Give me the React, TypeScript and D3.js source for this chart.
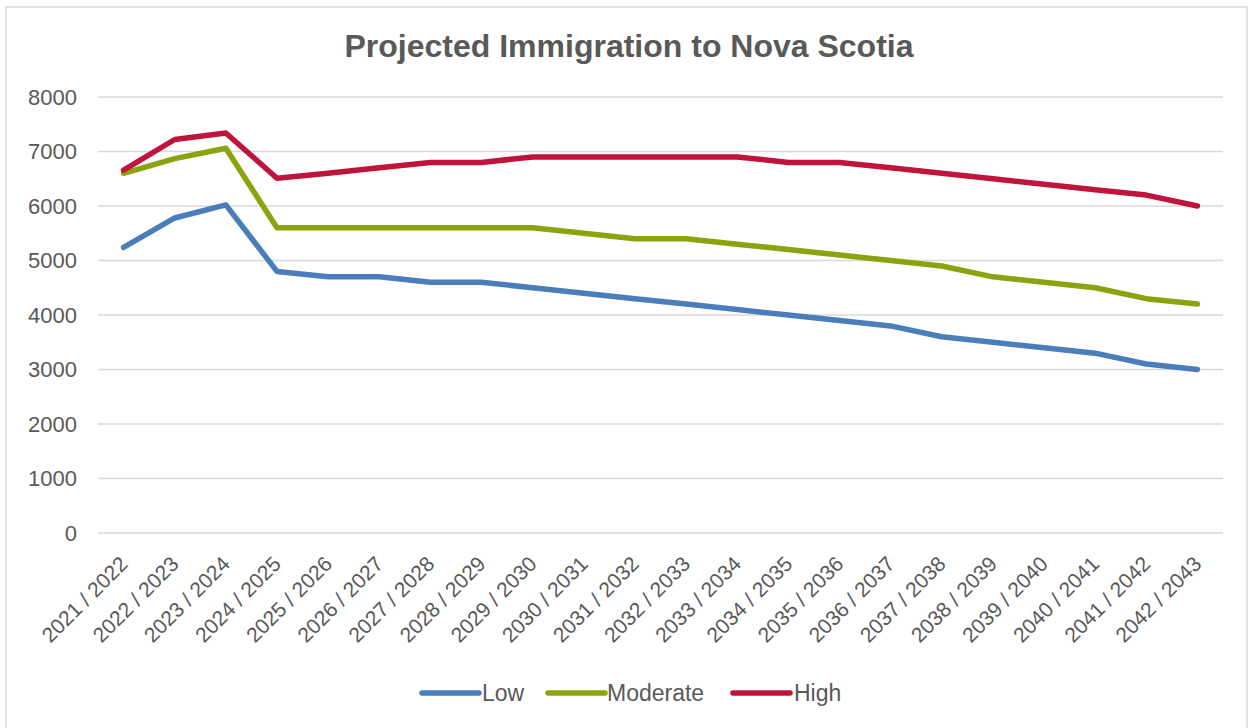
import React from "react";
import * as d3 from "d3";

const categories = [
  "2021 / 2022", "2022 / 2023", "2023 / 2024", "2024 / 2025", "2025 / 2026",
  "2026 / 2027", "2027 / 2028", "2028 / 2029", "2029 / 2030", "2030 / 2031",
  "2031 / 2032", "2032 / 2033", "2033 / 2034", "2034 / 2035", "2035 / 2036",
  "2036 / 2037", "2037 / 2038", "2038 / 2039", "2039 / 2040", "2040 / 2041",
  "2041 / 2042", "2042 / 2043",
];

const lowValues = [
  5240, 5780, 6020, 4800, 4700, 4700, 4600, 4600, 4500, 4400, 4300,
  4200, 4100, 4000, 3900, 3800, 3600, 3500, 3400, 3300, 3100, 3000,
];
const moderateValues = [
  6600, 6870, 7060, 5600, 5600, 5600, 5600, 5600, 5600, 5500, 5400,
  5400, 5300, 5200, 5100, 5000, 4900, 4700, 4600, 4500, 4300, 4200,
];
const highValues = [
  6660, 7220, 7340, 6510, 6600, 6700, 6800, 6800, 6900, 6900, 6900,
  6900, 6900, 6800, 6800, 6700, 6600, 6500, 6400, 6300, 6200, 6000,
];

const yTicks = [0, 1000, 2000, 3000, 4000, 5000, 6000, 7000, 8000];

const seriesNames = ["Low", "Moderate", "High"];
const seriesColors = ["#4A7EBB", "#8AA40F", "#C1143C"];

const W = 1250;
const H = 728;
const plotLeft = 98;
const plotRight = 1223;
const plotTop = 97;
const plotBottom = 533;
const FONT = "'Liberation Sans', Arial, Helvetica, sans-serif";
const TEXT = "#595959";

export default function App() {
  const x = d3
    .scalePoint<string>()
    .domain(categories)
    .range([plotLeft, plotRight])
    .padding(0.5);
  const y = d3.scaleLinear().domain([0, 8000]).range([plotBottom, plotTop]);

  const allSeries = [lowValues, moderateValues, highValues];
  const line = d3
    .line<number>()
    .x((_, i) => x(categories[i]) as number)
    .y((d) => y(d))
    .curve(d3.curveLinear);

  const legendItems = [
    { lineX: 422, textX: 482 },
    { lineX: 548, textX: 607 },
    { lineX: 733, textX: 794 },
  ];
  const legendY = 693;

  return (
    <svg
      width={W}
      height={H}
      style={{ position: "absolute", left: 0, top: 0, background: "#fff" }}
    >
      <rect x={0} y={0} width={W} height={H} fill="#fff" />
      <rect
        x={6}
        y={7}
        width={1241}
        height={740}
        fill="#fff"
        stroke="#d9d9d9"
        strokeWidth={1.5}
      />
      <text
        x={629}
        y={57}
        textAnchor="middle"
        fontFamily={FONT}
        fontWeight="bold"
        fontSize={32}
        fill={TEXT}
      >
        Projected Immigration to Nova Scotia
      </text>

      {yTicks.map((t) => (
        <g key={t}>
          <line
            x1={plotLeft}
            x2={plotRight}
            y1={y(t)}
            y2={y(t)}
            stroke="#d9d9d9"
            strokeWidth={1.5}
          />
          <text
            x={77}
            y={y(t)}
            dy="0.36em"
            textAnchor="end"
            fontFamily={FONT}
            fontSize={22}
            fill={TEXT}
          >
            {t}
          </text>
        </g>
      ))}

      {categories.map((c) => {
        const cx = x(c) as number;
        return (
          <text
            key={c}
            transform={`translate(${cx},${plotBottom + 27}) rotate(-45)`}
            dy="0.36em"
            textAnchor="end"
            fontFamily={FONT}
            fontSize={21}
            fill={TEXT}
          >
            {c}
          </text>
        );
      })}

      {allSeries.map((vals, i) => (
        <path
          key={seriesNames[i]}
          d={line(vals) || ""}
          fill="none"
          stroke={seriesColors[i]}
          strokeWidth={5.5}
          strokeLinejoin="round"
          strokeLinecap="round"
        />
      ))}

      {seriesNames.map((name, i) => (
        <g key={name}>
          <line
            x1={legendItems[i].lineX}
            x2={legendItems[i].lineX + 57}
            y1={legendY}
            y2={legendY}
            stroke={seriesColors[i]}
            strokeWidth={5.5}
            strokeLinecap="round"
          />
          <text
            x={legendItems[i].textX}
            y={legendY}
            dy="0.36em"
            fontFamily={FONT}
            fontSize={23}
            fill={TEXT}
          >
            {name}
          </text>
        </g>
      ))}
    </svg>
  );
}
